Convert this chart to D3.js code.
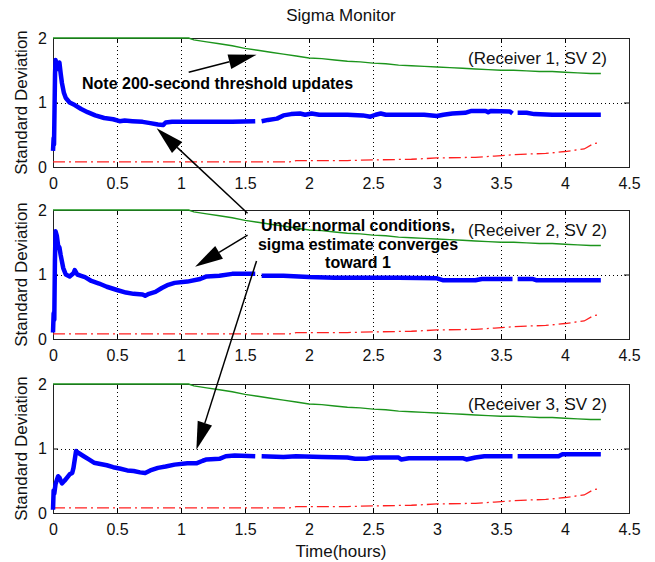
<!DOCTYPE html>
<html>
<head>
<meta charset="utf-8">
<script src="https://cdn.jsdelivr.net/npm/d3@7"></script>
<style>
  body { margin: 0; background: #fff; }
  svg { display: block; font-family: "Liberation Sans", Arial, sans-serif; }
</style>
</head>
<body>
<svg width="655" height="562"></svg>
<script>
// ---- data ----
var xTicks = [0, 0.5, 1, 1.5, 2, 2.5, 3, 3.5, 4, 4.5];
var yTicks = [0, 1, 2];
var panelLabels = ["(Receiver 1, SV 2)", "(Receiver 2, SV 2)", "(Receiver 3, SV 2)"];

// threshold (green), same for every receiver
var thrT = [0, 1.06, 1.1, 1.2, 1.3, 1.4, 1.5, 1.6, 1.7, 1.8, 1.9, 2.0, 2.1, 2.2, 2.3, 2.4, 2.5, 2.6, 2.7, 2.8, 2.9, 3.0, 3.1, 3.2, 3.3, 3.4, 3.5, 3.6, 3.7, 3.8, 3.9, 4.0, 4.1, 4.2, 4.28];
var thrV = [2, 2, 1.97, 1.94, 1.91, 1.88, 1.84, 1.81, 1.78, 1.75, 1.72, 1.69, 1.68, 1.66, 1.64, 1.63, 1.61, 1.6, 1.58, 1.57, 1.56, 1.55, 1.54, 1.53, 1.52, 1.51, 1.5, 1.5, 1.49, 1.48, 1.48, 1.47, 1.46, 1.45, 1.45];

// lower bound (red dash-dot)
var lowT = [0, 1.85, 1.9, 2.3, 2.5, 2.8, 3.0, 3.3, 3.45, 3.6, 3.7, 3.85, 4.0, 4.15, 4.22, 4.25];
var lowV = [0.08, 0.08, 0.1, 0.1, 0.11, 0.12, 0.14, 0.15, 0.17, 0.19, 0.2, 0.21, 0.24, 0.28, 0.36, 0.37];

// sigma estimates (blue), null = gap
var sigT1 = [0, 0.005, 0.008, 0.012, 0.016, 0.02, 0.03, 0.04, 0.05, 0.06, 0.07, 0.085, 0.1, 0.13, 0.17, 0.22, 0.27, 0.33, 0.4, 0.47, 0.52, 0.56, 0.62, 0.7, 0.76, 0.82, 0.86, 0.88, 0.93, 1.0, 1.2, 1.4, 1.58, 1.6, 1.63, 1.68, 1.75, 1.8, 1.86, 1.93, 1.97, 2.02, 2.08, 2.3, 2.42, 2.48, 2.52, 2.56, 2.6, 2.9, 3.0, 3.05, 3.12, 3.22, 3.27, 3.38, 3.4, 3.42, 3.57, 3.59, 3.6, 3.63, 3.7, 3.76, 3.9, 4.28];
var sigV1 = [0.25, 0.45, 0.35, 0.9, 1.45, 1.66, 1.58, 1.52, 1.62, 1.45, 1.3, 1.15, 1.07, 1.0, 0.96, 0.9, 0.85, 0.8, 0.76, 0.74, 0.71, 0.72, 0.71, 0.7, 0.68, 0.66, 0.65, 0.69, 0.7, 0.7, 0.7, 0.7, 0.71, null, 0.71, 0.73, 0.75, 0.8, 0.82, 0.83, 0.81, 0.83, 0.81, 0.81, 0.8, 0.78, 0.81, 0.83, 0.81, 0.81, 0.79, 0.81, 0.83, 0.84, 0.87, 0.87, 0.85, 0.87, 0.86, 0.83, null, 0.84, 0.84, 0.82, 0.81, 0.81];

var sigT2 = [0, 0.005, 0.01, 0.015, 0.02, 0.03, 0.04, 0.05, 0.06, 0.08, 0.1, 0.13, 0.16, 0.17, 0.19, 0.22, 0.25, 0.3, 0.36, 0.42, 0.5, 0.57, 0.63, 0.7, 0.72, 0.75, 0.8, 0.85, 0.9, 0.95, 1.05, 1.15, 1.2, 1.3, 1.4, 1.58, 1.6, 1.63, 1.8, 2.0, 2.2, 2.5, 2.7, 3.0, 3.05, 3.3, 3.35, 3.59, 3.6, 3.63, 3.75, 3.78, 4.28];
var sigV2 = [0.1, 0.4, 0.3, 1.2, 1.67, 1.6, 1.45, 1.42, 1.3, 1.1, 1.0, 0.97, 1.02, 1.07, 1.0, 0.98, 0.96, 0.9, 0.86, 0.81, 0.76, 0.72, 0.7, 0.69, 0.67, 0.7, 0.73, 0.79, 0.84, 0.87, 0.89, 0.93, 0.97, 0.98, 1.01, 1.01, null, 0.98, 0.98, 0.96, 0.95, 0.95, 0.95, 0.94, 0.91, 0.91, 0.93, 0.93, null, 0.93, 0.93, 0.91, 0.91];

var sigT3 = [0, 0.005, 0.01, 0.02, 0.04, 0.05, 0.07, 0.09, 0.11, 0.13, 0.15, 0.16, 0.18, 0.2, 0.24, 0.28, 0.32, 0.37, 0.42, 0.47, 0.52, 0.58, 0.63, 0.68, 0.72, 0.76, 0.82, 0.88, 0.95, 1.05, 1.12, 1.17, 1.2, 1.3, 1.35, 1.42, 1.58, 1.6, 1.63, 1.8, 1.9, 2.1, 2.3, 2.36, 2.45, 2.5, 2.7, 2.72, 2.78, 3.0, 3.2, 3.23, 3.3, 3.37, 3.59, 3.6, 3.63, 3.95, 3.98, 4.28];
var sigV3 = [0.05, 0.35, 0.3, 0.45, 0.57, 0.55, 0.46, 0.5, 0.55, 0.6, 0.62, 0.7, 0.96, 0.93, 0.88, 0.83, 0.78, 0.76, 0.74, 0.71, 0.69, 0.66, 0.65, 0.63, 0.62, 0.66, 0.7, 0.72, 0.75, 0.77, 0.77, 0.81, 0.83, 0.84, 0.88, 0.89, 0.88, null, 0.88, 0.87, 0.88, 0.87, 0.86, 0.84, 0.84, 0.86, 0.86, 0.83, 0.85, 0.85, 0.85, 0.83, 0.86, 0.88, 0.88, null, 0.88, 0.88, 0.91, 0.91];

var sigT = [sigT1, sigT2, sigT3];
var sigV = [sigV1, sigV2, sigV3];

// annotation arrows: [panel, t, value] for tail and head
var arrows = [
  [[0, 1.06, 1.47], [0, 1.59, 1.74]],
  [[1, 1.52, 1.95], [0, 0.81, 0.6]],
  [[1, 1.52, 1.61], [1, 1.11, 1.12]],
  [[1, 1.59, 1.21], [2, 1.12, 0.98]]
];

// ---- layout ----
var svg = d3.select("svg");
var left = 53, right = 629, panelH = 129;
var tops = [38, 210, 384];

var x = d3.scaleLinear().domain([0, 4.5]).range([left, right]);
var ys = tops.map(function(t) {
  return d3.scaleLinear().domain([0, 2]).range([t + panelH, t]);
});

function zip(ts, vs) {
  return ts.map(function(t, i) { return {t: t, v: vs[i]}; });
}

svg.append("text")
   .attr("x", (left + right) / 2)
   .attr("y", 21)
   .attr("text-anchor", "middle")
   .attr("font-size", 17)
   .attr("fill", "#111")
   .text("Sigma Monitor");

tops.forEach(function(top, p) {
  var y = ys[p];
  var g = svg.append("g");

  // dotted grid
  g.selectAll(".gx")
   .data(xTicks.slice(1, -1))
   .enter().append("line")
   .attr("x1", function(d) { return Math.round(x(d)) + 0.5; })
   .attr("x2", function(d) { return Math.round(x(d)) + 0.5; })
   .attr("y1", top).attr("y2", top + panelH)
   .attr("stroke", "#000").attr("stroke-dasharray", "1,3");
  g.selectAll(".gy")
   .data(yTicks.slice(1, -1))
   .enter().append("line")
   .attr("y1", function(d) { return Math.round(y(d)) + 0.5; })
   .attr("y2", function(d) { return Math.round(y(d)) + 0.5; })
   .attr("x1", left).attr("x2", right)
   .attr("stroke", "#000").attr("stroke-dasharray", "1,3");

  // inward ticks on all four sides
  var fmt = d3.format("~g");
  var bottomAxis = d3.axisBottom(x).tickValues(xTicks).tickSizeInner(-5).tickSizeOuter(0).tickFormat(fmt);
  var topAxis = d3.axisTop(x).tickValues(xTicks).tickSizeInner(-5).tickSizeOuter(0).tickFormat("");
  var leftAxis = d3.axisLeft(y).tickValues(yTicks).tickSizeInner(-5).tickSizeOuter(0).tickFormat(fmt);
  var rightAxis = d3.axisRight(y).tickValues(yTicks).tickSizeInner(-5).tickSizeOuter(0).tickFormat("");

  var ax = g.append("g").attr("transform", "translate(0," + (top + panelH) + ")").call(bottomAxis);
  ax.selectAll("text").attr("y", 11).attr("dy", "0.71em");
  g.append("g").attr("transform", "translate(0," + top + ")").call(topAxis);
  var ay = g.append("g").attr("transform", "translate(" + left + ",0)").call(leftAxis);
  ay.selectAll("text").attr("x", -6);
  g.append("g").attr("transform", "translate(" + right + ",0)").call(rightAxis);

  g.selectAll(".tick line").attr("stroke", "#000");
  g.selectAll(".domain").remove();
  g.selectAll(".tick text")
   .attr("font-family", "Liberation Sans, Arial, sans-serif")
   .attr("font-size", 16)
   .attr("fill", "#111");

  // frame
  g.append("rect")
   .attr("x", left + 0.5).attr("y", top + 0.5)
   .attr("width", right - left).attr("height", panelH)
   .attr("fill", "none").attr("stroke", "#222");

  // y label
  svg.append("text")
     .attr("transform", "translate(27," + (top + panelH / 2) + ") rotate(-90)")
     .attr("text-anchor", "middle")
     .attr("font-size", 17)
     .attr("fill", "#111")
     .text("Standard Deviation");

  var line = d3.line()
    .defined(function(d) { return d.v !== null; })
    .x(function(d) { return x(d.t); })
    .y(function(d) { return y(d.v); });

  g.append("path")
   .datum(zip(lowT, lowV))
   .attr("d", line)
   .attr("fill", "none").attr("stroke", "#ff2020").attr("stroke-width", 1.3)
   .attr("stroke-dasharray", "12,4,2,4");

  g.append("path")
   .datum(zip(thrT, thrV))
   .attr("d", line)
   .attr("fill", "none").attr("stroke", "#1c951c").attr("stroke-width", 1.4);

  g.append("path")
   .datum(zip(sigT[p], sigV[p]))
   .attr("d", line)
   .attr("fill", "none").attr("stroke", "#0000ff").attr("stroke-width", 4.5)
   .attr("stroke-linejoin", "round");

  svg.append("text")
     .attr("x", 607)
     .attr("y", top + 26)
     .attr("text-anchor", "end")
     .attr("font-size", 17)
     .attr("fill", "#111")
     .text(panelLabels[p]);
});

svg.append("text")
   .attr("x", (left + right) / 2)
   .attr("y", 557)
   .attr("text-anchor", "middle")
   .attr("font-size", 17)
   .attr("fill", "#111")
   .text("Time(hours)");

// annotations
svg.append("text")
   .attr("x", 82).attr("y", 89)
   .attr("font-size", 16).attr("font-weight", "bold")
   .text("Note 200-second threshold updates");

var note = svg.append("text")
   .attr("text-anchor", "middle")
   .attr("font-size", 16).attr("font-weight", "bold");
["Under normal conditions,", "sigma estimate converges", "toward 1"].forEach(function(s, i) {
  note.append("tspan").attr("x", 358).attr("y", 231 + i * 18.5).text(s);
});

function pt(a) { return [x(a[1]), ys[a[0]](a[2])]; }

arrows.forEach(function(a) {
  var p0 = pt(a[0]), p1 = pt(a[1]);
  var dx = p1[0] - p0[0], dy = p1[1] - p0[1];
  var len = Math.sqrt(dx * dx + dy * dy);
  var ux = dx / len, uy = dy / len;
  var hl = 28, hw = 7.5;
  var bx = p1[0] - ux * hl, by = p1[1] - uy * hl;
  svg.append("line")
     .attr("x1", p0[0]).attr("y1", p0[1])
     .attr("x2", bx).attr("y2", by)
     .attr("stroke", "#000").attr("stroke-width", 1.5);
  svg.append("path")
     .attr("d", "M" + p1[0] + "," + p1[1] +
                "L" + (bx - uy * hw) + "," + (by + ux * hw) +
                "L" + (bx + uy * hw) + "," + (by - ux * hw) + "Z")
     .attr("fill", "#000");
});
</script>
</body>
</html>
